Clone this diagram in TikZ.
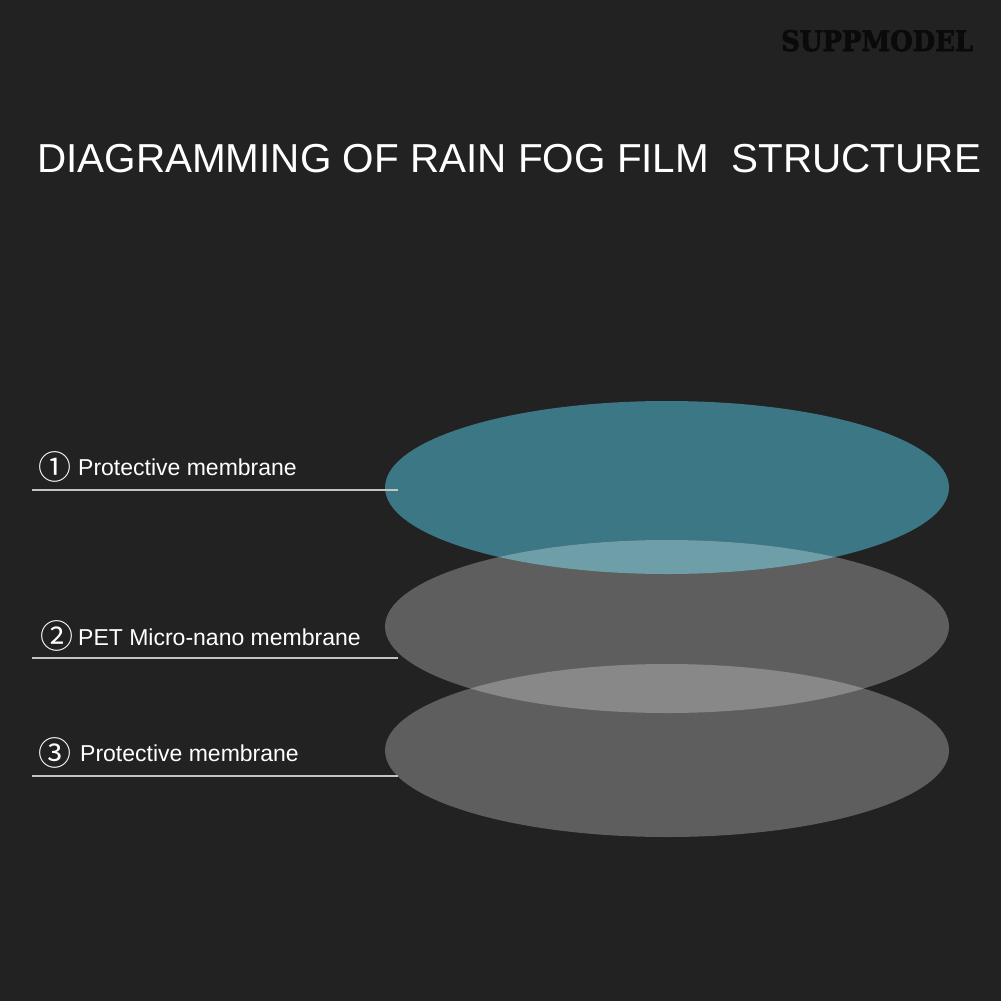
\documentclass[tikz,border=0pt]{standalone}
\usepackage{fontspec}
\setmainfont{Liberation Sans}
\newfontfamily\circfont{Noto Sans CJK SC}
\newfontfamily\markfont[FakeBold=2.5]{DejaVu Serif Bold}
\definecolor{bgc}{HTML}{222222}
\definecolor{teal1}{HTML}{3B7785}
\definecolor{grey1}{HTML}{5E5E5E}
\definecolor{over1}{HTML}{6E9FA9}
\definecolor{over2}{HTML}{888888}
\definecolor{leader}{HTML}{C4C4C4}
\definecolor{wm}{HTML}{0A0A0A}
\tikzset{
  lbl/.style={anchor=base west,inner sep=0pt,text=white,font=\fontsize{23}{26}\selectfont},
  num/.style={anchor=center,inner sep=0pt,text=white,font=\circfont\fontsize{33}{33}\selectfont},
  leadline/.style={draw=leader,line width=1.2pt},
}
\def\ea{(667,487.5) ellipse [x radius=282,y radius=86.5]}
\def\eb{(667,626.5) ellipse [x radius=282,y radius=86.5]}
\def\ec{(667,750.5) ellipse [x radius=282,y radius=86.5]}
\begin{document}
\begin{tikzpicture}[x=1pt,y=-1pt]
\useasboundingbox (0,0) rectangle (1001,1001);
\fill[bgc] (0,0) rectangle (1001,1001);
\fill[teal1] \ea;
\fill[grey1] \eb;
\fill[grey1] \ec;
\begin{scope}\clip \ea; \fill[over1] \eb; \end{scope}
\begin{scope}\clip \eb; \fill[over2] \ec; \end{scope}
\node[anchor=base west,inner sep=0pt,text=white,font=\fontsize{40.45}{46}\selectfont] (title) at (37,172.5) {DIAGRAMMING OF RAIN FOG FILM\ \ STRUCTURE};
\node[anchor=base west,inner sep=0pt,text=wm] (mark) at (781,51) {\resizebox{192pt}{21pt}{\markfont SUPPMODEL}};
\node[num] (n1) at (54.5,466.5) {①};
\node[lbl] (l1) at (78,475) {Protective membrane};
\node[num] (n2) at (57,635.5) {②};
\node[lbl] (l2) at (78,645) {PET Micro-nano membrane};
\node[num] (n3) at (54.5,753) {③};
\node[lbl] (l3) at (80,761) {Protective membrane};
\coordinate (a1) at (32,490); \coordinate (b1) at (398,490);
\coordinate (a2) at (32,658); \coordinate (b2) at (398,658);
\coordinate (a3) at (32,776); \coordinate (b3) at (398,776);
\draw[leadline] (a1) -- (b1);
\draw[leadline] (a2) -- (b2);
\draw[leadline] (a3) -- (b3);
\end{tikzpicture}
\end{document}
